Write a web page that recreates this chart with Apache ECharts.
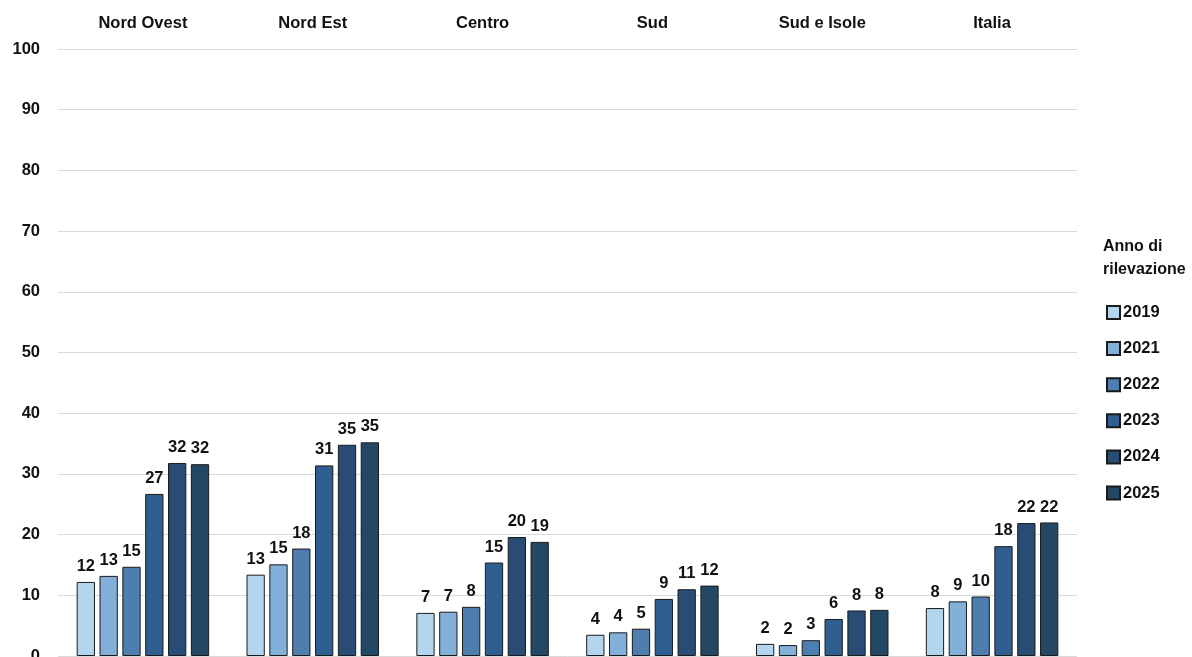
<!DOCTYPE html>
<html><head><meta charset="utf-8">
<script src="https://cdn.jsdelivr.net/npm/echarts@6/dist/echarts.min.js"></script>
<style>html,body{margin:0;padding:0;background:#fff}#c{width:1192px;height:657px}</style>
</head><body><div id="c"></div>
<script>
const categories = ['Nord Ovest','Nord Est','Centro','Sud','Sud e Isole','Italia'];
const years = ['2019','2021','2022','2023','2024','2025'];
const v2019 = [12.2, 13.4, 7.1, 3.5, 2.0, 7.9];
const v2021 = [13.2, 15.1, 7.3, 3.9, 1.8, 9.0];
const v2022 = [14.7, 17.7, 8.1, 4.5, 2.6, 9.8];
const v2023 = [26.7, 31.4, 15.4, 9.4, 6.1, 18.1];
const v2024 = [31.8, 34.8, 19.6, 11.0, 7.5, 21.9];
const v2025 = [31.6, 35.2, 18.8, 11.6, 7.6, 22.0];
const colors = ['#b3d6ee','#82b0d8','#4e7eae','#2f5f91','#284c73','#234866'];
const allValues = [v2019, v2021, v2022, v2023, v2024, v2025];
const font = '"Liberation Sans", Arial, sans-serif';
const fs = 16.5;

const chart = echarts.init(document.getElementById('c'), null, {renderer:'canvas'});
chart.setOption({
  animation: false,
  title: {
    text: 'Anno di\nrilevazione', left: 1098, top: 230,
    textStyle: {fontFamily: font, fontWeight: 'bold', fontSize: 16, color: '#111', lineHeight: 23}
  },
  legend: {
    orient: 'vertical', left: 1101, top: 299,
    itemWidth: 13, itemHeight: 13, itemGap: 19.1,
    icon: 'rect',
    textStyle: {fontFamily: font, fontWeight: 'bold', fontSize: 16.5, color: '#111', padding:[0,0,0,-2]},
    data: years
  },
  grid: {left: 58, right: 115, top: 49, height: 607, containLabel: false, outerBoundsMode: 'none'},
  xAxis: {
    type: 'category', data: categories, position: 'top',
    axisLine: {show: false}, axisTick: {show: false},
    axisLabel: {fontFamily: font, fontWeight: 'bold', fontSize: fs, color: '#111', margin: 17}
  },
  yAxis: {
    type: 'value', min: 0, max: 100, interval: 10,
    axisLine: {show: false}, axisTick: {show: false},
    axisLabel: {fontFamily: font, fontWeight: 'bold', fontSize: fs, color: '#111', margin: 18},
    splitLine: {lineStyle: {color: '#d9d9d9', width: 1}}
  },
  series: years.map((y, i) => ({
    name: y, type: 'bar', data: allValues[i],
    barCategoryGap: '22%', barGap: '25%',
    itemStyle: {color: colors[i], borderColor: '#1a1a1a', borderWidth: 1},
    label: {
      show: true, position: 'top', distance: 7,
      fontFamily: font, fontWeight: 'bold', fontSize: fs, color: '#111',
      formatter: p => Math.round(p.value)
    }
  }))
});
</script></body></html>
